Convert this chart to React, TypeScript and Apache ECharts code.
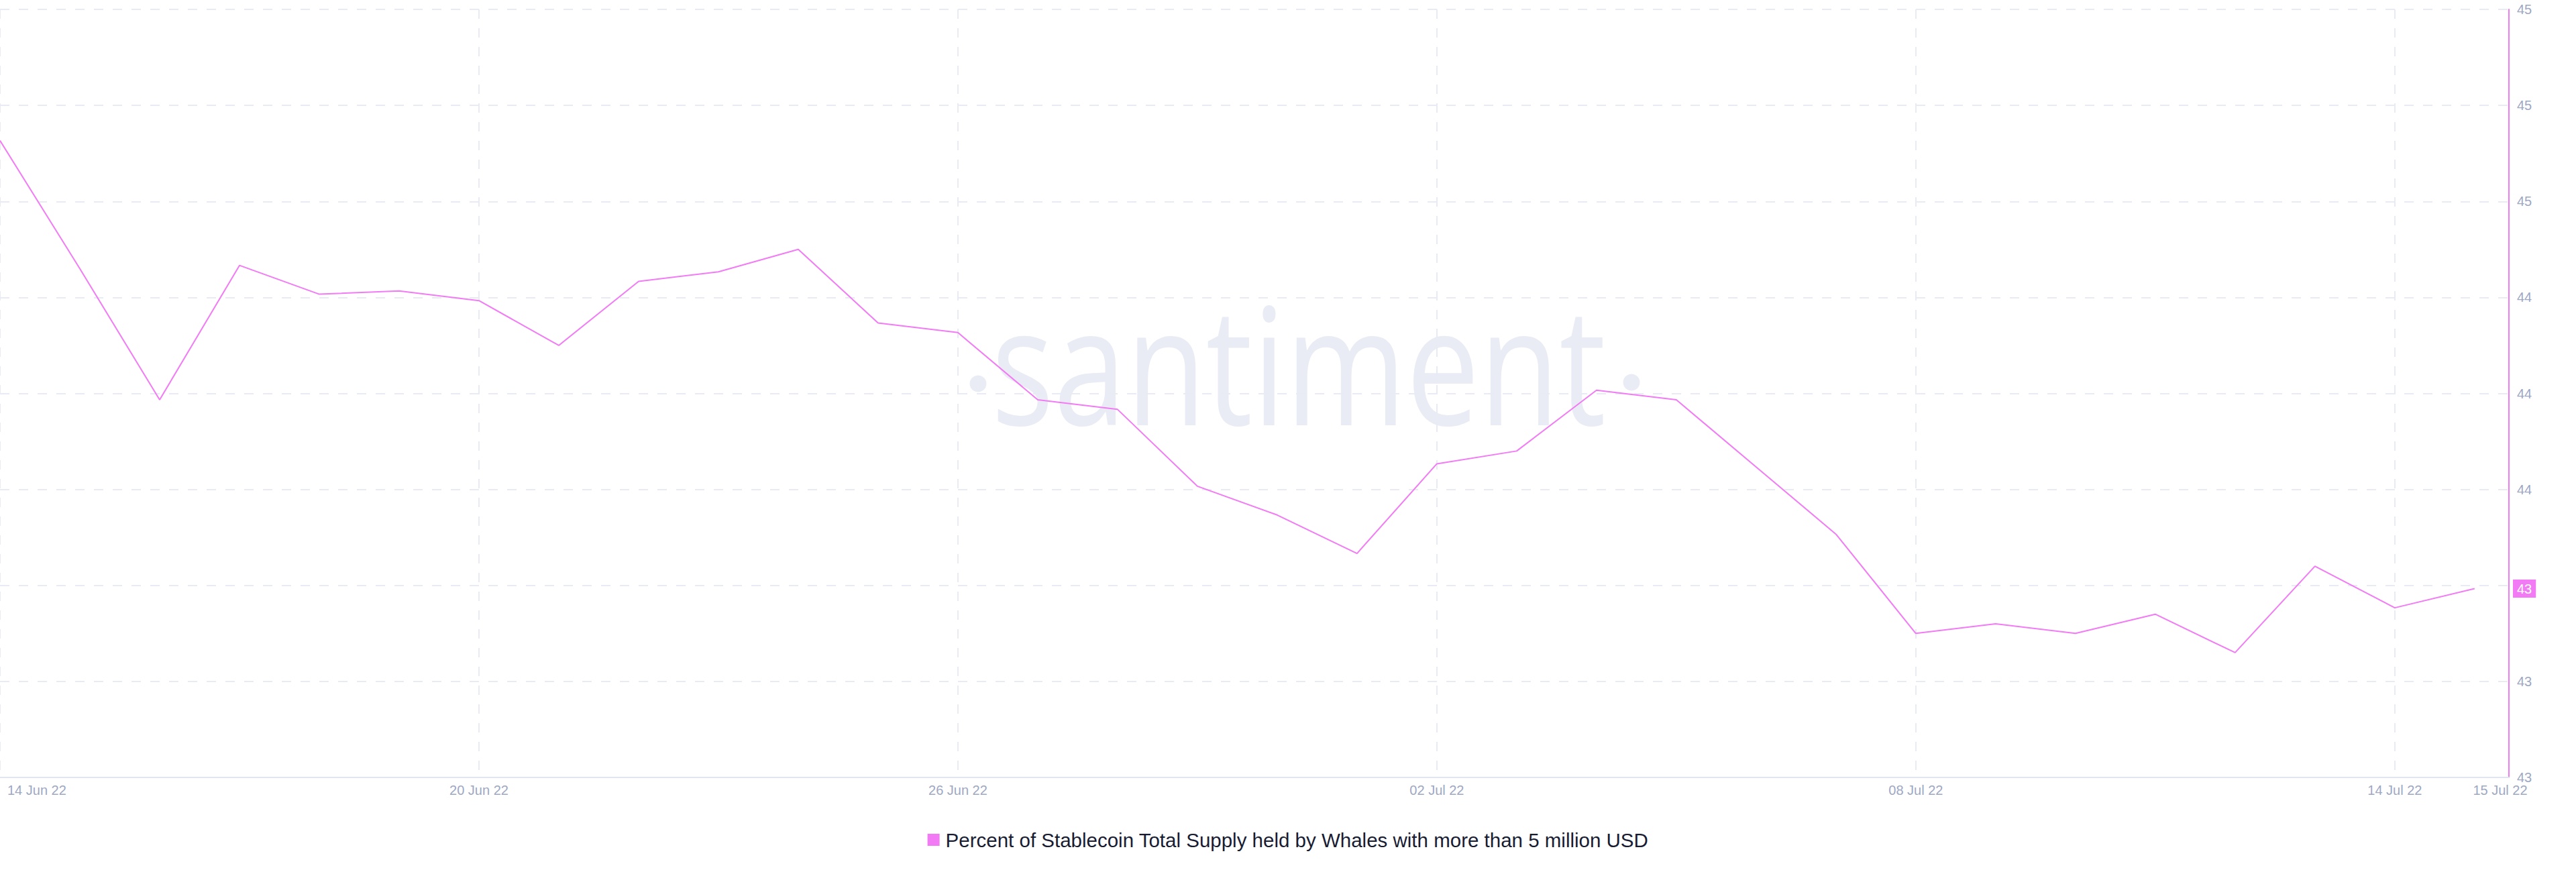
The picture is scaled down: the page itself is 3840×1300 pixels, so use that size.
import React, { useEffect, useRef } from "react";
import * as echarts from "echarts";

const SERIES_NAME =
  "Percent of Stablecoin Total Supply held by Whales with more than 5 million USD";

const dates = [
  "2022-06-14", "2022-06-15", "2022-06-16", "2022-06-17", "2022-06-18", "2022-06-19",
  "2022-06-20", "2022-06-21", "2022-06-22", "2022-06-23", "2022-06-24", "2022-06-25",
  "2022-06-26", "2022-06-27", "2022-06-28", "2022-06-29", "2022-06-30", "2022-07-01",
  "2022-07-02", "2022-07-03", "2022-07-04", "2022-07-05", "2022-07-06", "2022-07-07",
  "2022-07-08", "2022-07-09", "2022-07-10", "2022-07-11", "2022-07-12", "2022-07-13",
  "2022-07-14", "2022-07-15",
];

const values = [
  44.79, 44.39, 43.98, 44.4, 44.31, 44.32,
  44.29, 44.15, 44.35, 44.38, 44.45, 44.22,
  44.19, 43.98, 43.95, 43.71, 43.62, 43.5,
  43.78, 43.82, 44.01, 43.98, 43.77, 43.56,
  43.25, 43.28, 43.25, 43.31, 43.19, 43.46,
  43.33, 43.39,
];

const MONTHS = ["Jan", "Feb", "Mar", "Apr", "May", "Jun", "Jul", "Aug", "Sep", "Oct", "Nov", "Dec"];

// y axis ticks: 42.8 .. 45.2 every 0.3 (labels rounded to integers)
const Y_MIN = 42.8;
const Y_MAX = 45.2;
const Y_STEP = 0.3;

const DAY = 86400000;
const X_TICK_DAYS = 6;
const X_END_PAD_DAYS = 0.43;

const MAGENTA = "#f27bf5";
const LABEL_GREY = "#9ea8c3";
const GRID_GREY = "#e9ebf4";

function toTs(s: string) {
  const [y, m, d] = s.split("-").map(Number);
  return Date.UTC(y, m - 1, d);
}

function fmtDate(ts: number) {
  const d = new Date(ts);
  return `${String(d.getUTCDate()).padStart(2, "0")} ${MONTHS[d.getUTCMonth()]} ${String(
    d.getUTCFullYear()
  ).slice(2)}`;
}

export default function App() {
  const ref = useRef<HTMLDivElement>(null);

  useEffect(() => {
    if (!ref.current) return;
    const chart = echarts.init(ref.current, undefined, { renderer: "svg" });
    const data = dates.map((d, i) => [toTs(d), values[i]]);
    const xMin = toTs(dates[0]);
    const xLast = toTs(dates[dates.length - 1]);
    const xMax = xLast + X_END_PAD_DAYS * DAY;
    const lastVal = values[values.length - 1];

    const font = "Liberation Sans, Arial, sans-serif";

    chart.setOption({
      animation: false,
      backgroundColor: "#ffffff",
      grid: { left: 0, right: 100, top: 14, bottom: 141 },
      graphic: [
        {
          type: "text",
          z: -10,
          x: 1478,
          y: 540,
          scaleX: 0.8,
          silent: true,
          style: {
            text: "santiment",
            fontSize: 243,
            fontFamily: "Open Sans",
            fill: "#e9ecf4",
            align: "left",
            verticalAlign: "middle",
          },
        },
        { type: "circle", z: -10, silent: true, shape: { cx: 1458, cy: 572, r: 12.5 }, style: { fill: "#e9ecf4" } },
        { type: "circle", z: -10, silent: true, shape: { cx: 2432, cy: 570, r: 12.5 }, style: { fill: "#e9ecf4" } },
      ],
      legend: {
        top: 1232,
        left: "center",
        icon: "rect",
        itemWidth: 18,
        itemHeight: 18,
        itemStyle: { borderWidth: 0 },
        textStyle: { fontSize: 29.5, color: "#181c33", fontFamily: font, padding: [0, 0, 0, 4] },
        data: [SERIES_NAME],
      },
      xAxis: {
        type: "value",
        min: xMin,
        max: xMax,
        interval: X_TICK_DAYS * DAY,
        axisLine: { show: true, lineStyle: { color: "#e1e5f0", width: 2 } },
        axisTick: { show: false },
        splitLine: { show: true, lineStyle: { color: GRID_GREY, width: 2, type: [14, 14] } },
        axisLabel: {
          color: LABEL_GREY,
          fontSize: 20,
          fontFamily: font,
          margin: 9,
          showMinLabel: true,
          showMaxLabel: true,
          alignMinLabel: "left",
          formatter: (v: number, idx: number) => {
            const s = fmtDate(v);
            if (idx === 0) return `{first|${s}}`;
            if (v > xLast) return `{last|${s}}`;
            return s;
          },
          rich: {
            first: { color: LABEL_GREY, fontSize: 20, fontFamily: font, padding: [0, 0, 0, 11] },
            last: { color: LABEL_GREY, fontSize: 20, fontFamily: font, padding: [0, 26, 0, 0] },
          },
        },
      },
      yAxis: {
        type: "value",
        position: "right",
        min: Y_MIN,
        max: Y_MAX,
        interval: Y_STEP,
        axisLine: { show: true, lineStyle: { color: MAGENTA, width: 2 } },
        axisTick: { show: false },
        splitLine: { show: true, lineStyle: { color: GRID_GREY, width: 2, type: [14, 14] } },
        axisLabel: {
          color: LABEL_GREY,
          fontSize: 20,
          fontFamily: font,
          margin: 12,
          formatter: (v: number) => String(Math.round(v)),
        },
      },
      series: [
        {
          name: SERIES_NAME,
          type: "line",
          data,
          showSymbol: false,
          symbol: "none",
          lineStyle: { color: MAGENTA, width: 2 },
          itemStyle: { color: MAGENTA },
          markLine: {
            silent: true,
            symbol: "none",
            lineStyle: { color: "rgba(0,0,0,0)", width: 0, type: "solid" },
            emphasis: { disabled: true },
            data: [{ yAxis: lastVal }],
            label: {
              show: true,
              position: "end",
              distance: 6,
              formatter: () => String(Math.round(lastVal)),
              color: "#ffffff",
              backgroundColor: MAGENTA,
              padding: [4, 6, 3, 6],
              fontSize: 20,
              fontFamily: font,
              opacity: 1,
            },
          },
        },
      ],
    });

    return () => chart.dispose();
  }, []);

  return (
    <div
      ref={ref}
      style={{ position: "absolute", left: 0, top: 0, width: 3840, height: 1300 }}
    />
  );
}
